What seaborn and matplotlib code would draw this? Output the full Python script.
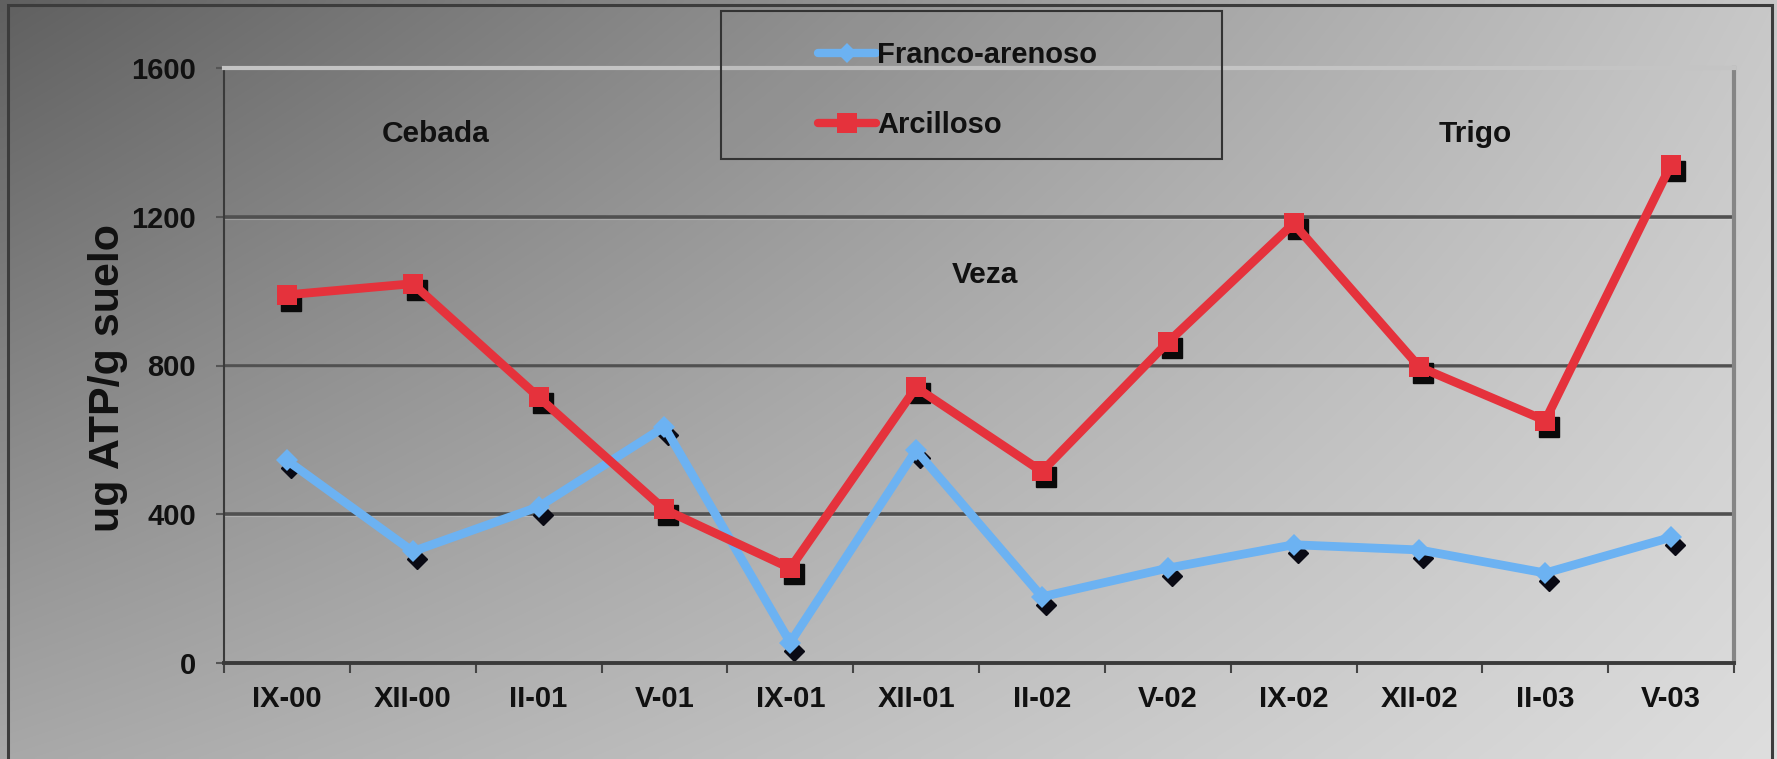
import numpy as np
import pandas as pd
import matplotlib
matplotlib.use("Agg")
import matplotlib.pyplot as plt
import matplotlib.transforms as mtransforms
from matplotlib.lines import Line2D
from matplotlib.patches import Rectangle
import seaborn as sns

# ---- data ----
fechas = ["IX-00", "XII-00", "II-01", "V-01", "IX-01", "XII-01",
          "II-02", "V-02", "IX-02", "XII-02", "II-03", "V-03"]
franco_arenoso = [545, 300, 420, 635, 55, 572, 178, 255, 318, 304, 242, 338]
arcilloso = [990, 1020, 715, 413, 255, 741, 515, 862, 1182, 796, 652, 1340]
series_names = ["Franco-arenoso", "Arcilloso"]
y_ticks = [0, 400, 800, 1200, 1600]
cultivos = ["Cebada", "Veza", "Trigo"]
cultivo_pos = [(1.18, 1422), (5.55, 1043), (9.44, 1422)]

df = pd.DataFrame({
    "fecha": fechas * 2,
    "valor": franco_arenoso + arcilloso,
    "suelo": [series_names[0]] * len(fechas) + [series_names[1]] * len(fechas),
})

sns.set_theme(style="white")
plt.rcParams["font.family"] = ["Liberation Sans", "DejaVu Sans"]
plt.rcParams["font.weight"] = "bold"

W, H = 1777, 759
fig = plt.figure(figsize=(W / 100, H / 100), dpi=100)

# background gradient (bilinear)
bg = fig.add_axes([0, 0, 1, 1], zorder=-10)
xx = np.linspace(0, 1, 400)
yy = np.linspace(0, 1, 200)
X, Y = np.meshgrid(xx, yy)
TL, TR, BL, BR = 0x60, 0xc8, 0xa8, 0xde
G = (TL * (1 - X) * (1 - Y) + TR * X * (1 - Y) + BL * (1 - X) * Y + BR * X * Y) / 255.0
bg.imshow(np.dstack([G, G, G]), aspect="auto", extent=[0, 1, 1, 0], interpolation="bilinear")
bg.set_xlim(0, 1)
bg.set_ylim(1, 0)
bg.axis("off")
# outer frame (top, left, right edges; bottom runs off the image)
bg.add_patch(Rectangle((8 / W, -0.1), (1772 - 8) / W, 1.1 - 5 / H, fill=False,
                       edgecolor="#3c3c3c", lw=2.2, transform=bg.transAxes, clip_on=True))

ax = fig.add_axes([224 / W, 1 - 663 / H, (1734 - 224) / W, (663 - 68) / H])
ax.set_facecolor("none")

blue = "#6cb2f2"
red = "#e5323c"

# shadows
shadow_blue = mtransforms.offset_copy(ax.transData, fig=fig, x=4, y=-8, units="dots")
shadow_red = mtransforms.offset_copy(ax.transData, fig=fig, x=4, y=-6, units="dots")
xpos = np.arange(len(fechas))
ax.plot(xpos, franco_arenoso, linestyle="none", marker="D", markersize=10,
        color="#0a0a14", transform=shadow_blue, zorder=2)
ax.plot(xpos, arcilloso, linestyle="none", marker="s", markersize=14,
        color="#0a0a0a", transform=shadow_red, zorder=2)

sns.lineplot(data=df, x="fecha", y="valor", hue="suelo", style="suelo",
             palette={series_names[0]: blue, series_names[1]: red},
             markers={series_names[0]: "D", series_names[1]: "s"},
             dashes=False, sort=False, linewidth=6.3, markersize=14,
             markeredgewidth=0, legend=False, ax=ax, zorder=3)
for ln in ax.lines[2:]:
    if ln.get_marker() == "D":
        ln.set_markersize(11)

ax.set_xlim(-0.5, len(fechas) - 0.5)
ax.set_ylim(0, 1600)
ax.set_yticks(y_ticks)
ax.set_yticklabels([str(v) for v in y_ticks], fontsize=21, fontweight="bold", color="#111111")
ax.set_xticks(xpos)
ax.set_xticklabels(fechas, fontsize=21, fontweight="bold", color="#111111")
ax.set_xticks(np.arange(-0.5, len(fechas) + 0.5, 1), minor=True)
ax.tick_params(axis="x", which="major", length=0, pad=16)
ax.tick_params(axis="x", which="minor", length=7, width=1.5, color="#444444", direction="out", bottom=True)
ax.tick_params(axis="y", which="major", length=6, width=1.5, color="#555555", direction="out", pad=14, left=True)
ax.set_xlabel("")
ax.set_ylabel("")

for v in y_ticks[1:-1]:
    ax.axhline(v, color="#505050", lw=2.6, zorder=1)
    ax.axhline(v - 5, color="#e0e0e0", lw=0.8, alpha=0.3, zorder=1)

ax.spines["top"].set_color("#c4c4c4")
ax.spines["top"].set_linewidth(3)
ax.spines["left"].set_color("#3a3a3a")
ax.spines["left"].set_linewidth(1.5)
ax.spines["right"].set_color("#858585")
ax.spines["right"].set_linewidth(3)
ax.spines["bottom"].set_color("#3a3a3a")
ax.spines["bottom"].set_linewidth(2.8)
for s in ax.spines.values():
    s.set_visible(True)

for name, (px, py) in zip(cultivos, cultivo_pos):
    ax.text(px, py, name, ha="center", va="center", fontsize=21.5,
            fontweight="bold", color="#111111", zorder=5)

fig.text(108 / W, 1 - 378 / H, "ug ATP/g suelo", rotation=90, ha="center", va="center",
         fontsize=31, fontweight="bold", color="#111111")

# legend box
fig.patches.append(Rectangle((721 / W, 1 - 159 / H), (1222 - 721) / W, (159 - 11) / H,
                             transform=fig.transFigure, facecolor="#808080", alpha=0.10,
                             edgecolor="none", zorder=4))
fig.patches.append(Rectangle((721 / W, 1 - 159 / H), (1222 - 721) / W, (159 - 11) / H,
                             transform=fig.transFigure, fill=False,
                             edgecolor="#333333", lw=1.5, zorder=4))
handles = [Line2D([0], [0], color=blue, lw=6, marker="D", markersize=10, markeredgewidth=0),
           Line2D([0], [0], color=red, lw=6, marker="s", markersize=14, markeredgewidth=0)]
leg = fig.legend(handles, series_names, loc="center left",
                 bbox_to_anchor=(803 / W, 1 - 90 / H), frameon=False, borderpad=0,
                 handlelength=2.0, handletextpad=0.05, labelspacing=1.45,
                 prop={"size": 21, "weight": "bold"})
for t in leg.get_texts():
    t.set_color("#111111")

fig.savefig("out.png", dpi=100)
